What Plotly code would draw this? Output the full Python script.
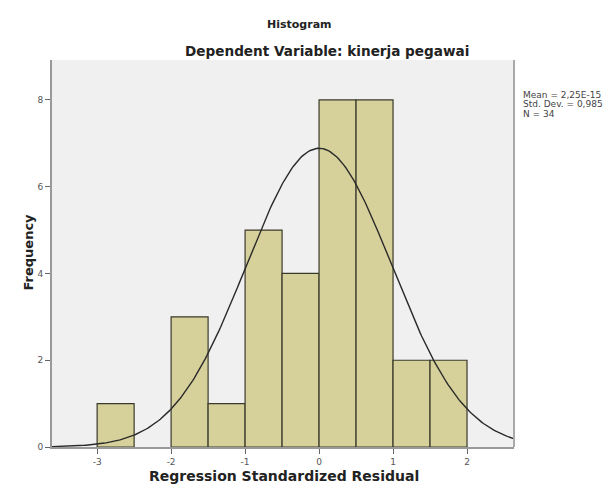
import numpy as np
import plotly.graph_objects as go

bin_centers = [-2.75, -1.75, -1.25, -0.75, -0.25, 0.25, 0.75, 1.25, 1.75]
frequencies = [1, 3, 1, 5, 4, 8, 8, 2, 2]
bin_width = 0.5
mean_val = 2.25e-15
std_val = 0.985
n_val = 34
x_ticks = [-3, -2, -1, 0, 1, 2]
y_ticks = [0, 2, 4, 6, 8]
stats_lines = ["Mean = 2,25E-15", "Std. Dev. = 0,985", "N = 34"]

xs = np.linspace(-3.61, 2.64, 300)
ys = n_val * bin_width * np.exp(-0.5 * ((xs - mean_val) / std_val) ** 2) / (std_val * np.sqrt(2 * np.pi))

W, H = 603, 489   # page body has an 8px margin
ML, MR, MT, MB = 44, 97, 52, 50

fig = go.Figure()
fig.add_trace(go.Bar(x=bin_centers, y=frequencies, width=bin_width,
                     marker=dict(color="#d6d09a", line=dict(color="#3a3a2a", width=1.2)),
                     hoverinfo="x+y"))
fig.add_trace(go.Scatter(x=xs, y=ys, mode="lines", line=dict(color="#2a2a2a", width=1.4)))

FONT = "DejaVu Sans, Verdana, sans-serif"
fig.update_layout(
    width=W, height=H,
    margin=dict(l=ML, r=MR, t=MT, b=MB),
    paper_bgcolor="white", plot_bgcolor="#f0f0f0",
    showlegend=False,
    font=dict(family=FONT, color="#222"),
    xaxis=dict(range=[-3.61, 2.635], tickvals=x_ticks, ticktext=[str(t) for t in x_ticks],
               ticks="outside", ticklen=5, tickcolor="#666", showgrid=False, zeroline=False,
               showline=True, linecolor="#999", linewidth=2,
               tickfont=dict(size=9, color="#555")),
    yaxis=dict(range=[0, 8.92], tickvals=y_ticks, ticks="outside", ticklen=5, tickcolor="#666",
               showgrid=False, zeroline=False, showline=True, linecolor="#999", linewidth=2,
               tickfont=dict(size=9, color="#555")),
)

pl, pr, pt, pb = ML, W - MR, MT, H - MB


def add_text(text, px, py, size, **kw):
    # px, py are window pixel coordinates; subtract body margin
    fx, fy = px - 8, py - 8
    fig.add_annotation(text=text, xref="paper", yref="paper",
                       x=(fx - pl) / (pr - pl), y=(pb - fy) / (pb - pt),
                       showarrow=False, font=dict(size=size, family=FONT, color=kw.pop("color", "#222")),
                       **kw)


add_text("<b>Histogram</b>", 299, 16, 11)
add_text("<b>Dependent Variable: kinerja pegawai</b>", 327, 41, 13.6)
add_text("<b>Regression Standardized Residual</b>", 284, 486, 14)
add_text("<b>Frequency</b>", 18, 252, 13, textangle=-90)
for i, line in enumerate(stats_lines):
    add_text(line, 521, 88 + 9.5 * i, 9, xanchor="left", align="left", color="#444")

fig.add_shape(type="line", xref="paper", yref="paper", x0=1, x1=1, y0=0, y1=1,
              line=dict(color="#aaa", width=2))

fig.write_html("out.html")
